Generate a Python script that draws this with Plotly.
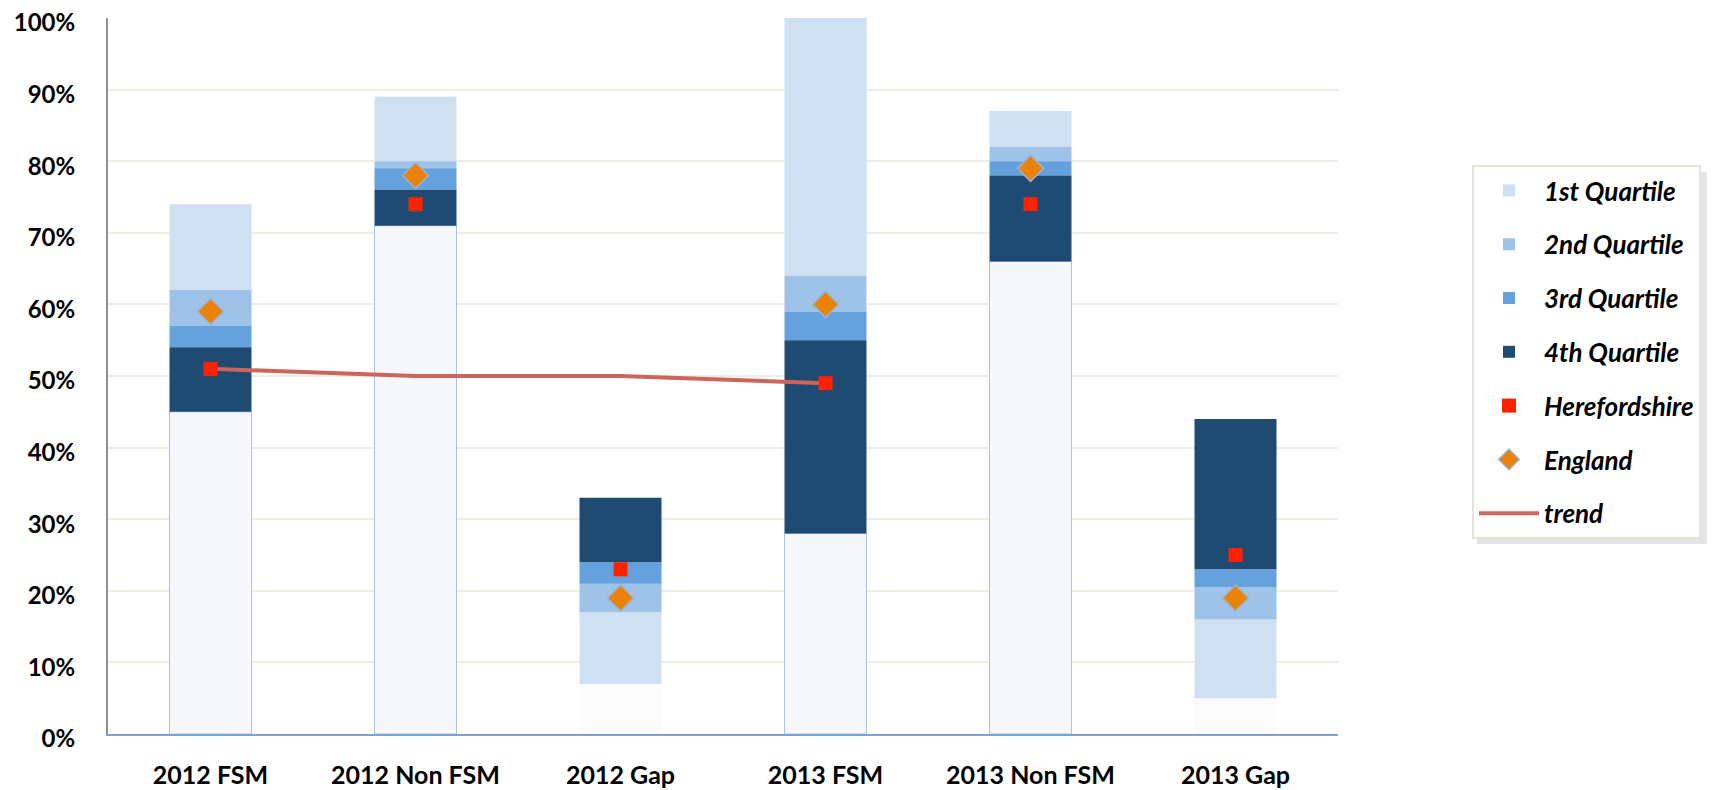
import plotly.graph_objects as go

categories = ["2012 FSM", "2012 Non FSM", "2012 Gap", "2013 FSM", "2013 Non FSM", "2013 Gap"]

# floor of the coloured range (below it: pale filler bar)
floor_vals = [45, 71, 7, 28, 66, 5]
# quartile bands: lower and upper bounds (percent)
q1_low = [62, 80, 7, 64, 82, 5]
q1_high = [74, 89, 17, 100, 87, 16]
q2_low = [57, 79, 17, 59, 80, 16]
q2_high = [62, 80, 21, 64, 82, 20.5]
q3_low = [54, 76, 21, 55, 78, 20.5]
q3_high = [57, 79, 24, 59, 80, 23]
q4_low = [45, 71, 24, 28, 66, 23]
q4_high = [54, 76, 33, 55, 78, 44]

herefordshire = [51, 74, 23, 49, 74, 25]
england = [59, 78, 19, 60, 79, 19]

trend_x = ["2012 FSM", "2012 Non FSM", "2012 Gap", "2013 FSM"]
trend_y = [51, 50, 50, 49]

FONT = "Lato"
OFF = 8  # page body margin of the html page
W, H = 1718 - OFF, 790 - OFF
ML, MR, MT, MB = 108 - OFF, 380, 18 - OFF, 56
PW, PH = W - ML - MR, H - MT - MB

fig = go.Figure()

is_gap = ["Gap" in c for c in categories]
fig.add_trace(go.Bar(
    x=categories, y=floor_vals, base=[0] * len(categories),
    marker=dict(color=["#FCFCFC" if g else "#F5F7FA" for g in is_gap],
                line=dict(color=["rgba(0,0,0,0)" if g else "#AAC3E0" for g in is_gap], width=1)),
    showlegend=False, hoverinfo="skip", name="base"))

bands = [
    ("1st Quartile", q1_low, q1_high, "#CFE0F2", 1),
    ("2nd Quartile", q2_low, q2_high, "#9FC2E9", 2),
    ("3rd Quartile", q3_low, q3_high, "#65A1DD", 3),
    ("4th Quartile", q4_low, q4_high, "#1F4A72", 4),
]
for name, lo, hi, col, rank in bands:
    fig.add_trace(go.Bar(
        x=categories, base=lo, y=[h - l for h, l in zip(hi, lo)],
        marker=dict(color=col, line=dict(width=0)),
        name=name, legendrank=rank, legendgroup=name))

fig.add_trace(go.Scatter(
    x=trend_x, y=trend_y, mode="lines", name="trend",
    line=dict(color="#CD655C", width=4), legendrank=7, legendgroup="trend"))
fig.add_trace(go.Scatter(
    x=categories, y=herefordshire, mode="markers", name="Herefordshire",
    marker=dict(symbol="square", color="#FF2200", size=14, line=dict(width=0)),
    legendrank=5, legendgroup="Herefordshire"))
fig.add_trace(go.Scatter(
    x=categories, y=england, mode="markers", name="England",
    marker=dict(symbol="diamond", color="#EA8207", size=20,
                line=dict(color="#9DB3CF", width=1.5)),
    legendrank=6, legendgroup="England"))


# paper coordinates from absolute page pixels
def px_x(px):
    return (px - OFF - ML) / PW


def px_y(py):
    return (H - MB - (py - OFF)) / PH


# legend drop shadow
fig.add_shape(type="rect", xref="paper", yref="paper",
              x0=px_x(1477), x1=px_x(1707), y0=px_y(544), y1=px_y(172),
              fillcolor="rgba(0,0,0,0.10)", line=dict(width=0), layer="above")

fig.update_layout(
    width=W, height=H,
    margin=dict(l=ML, r=MR, t=MT, b=MB),
    paper_bgcolor="white", plot_bgcolor="white",
    barmode="overlay", bargap=0.6,
    font=dict(family=FONT, size=25, color="#000000"),
    legend=dict(
        x=px_x(1472), y=px_y(165), xanchor="left", yanchor="top",
        bgcolor="white", bordercolor="#E4E4DA", borderwidth=2,
        font=dict(family=FONT, size=26, weight="bold", style="italic"),
        tracegroupgap=17, itemwidth=60,
    ),
    xaxis=dict(
        showgrid=False, showline=True, linecolor="#7DA3D2", linewidth=2,
        tickfont=dict(family=FONT, size=25, weight="bold"),
        ticks="", ticklabelstandoff=18, fixedrange=True, automargin=False,
        ticklabeloverflow="allow",
    ),
    yaxis=dict(
        range=[0, 100], dtick=10, ticksuffix="%",
        showgrid=True, gridcolor="#EEEEE4", gridwidth=2,
        showline=True, linecolor="#8F8F8F", linewidth=2,
        zeroline=False, automargin=False,
        tickfont=dict(family=FONT, size=24, weight="bold"),
        ticks="", ticklabelstandoff=26, ticklabeloverflow="allow",
        ticklabelshift=5,
    ),
)

fig.write_html("out.html")
